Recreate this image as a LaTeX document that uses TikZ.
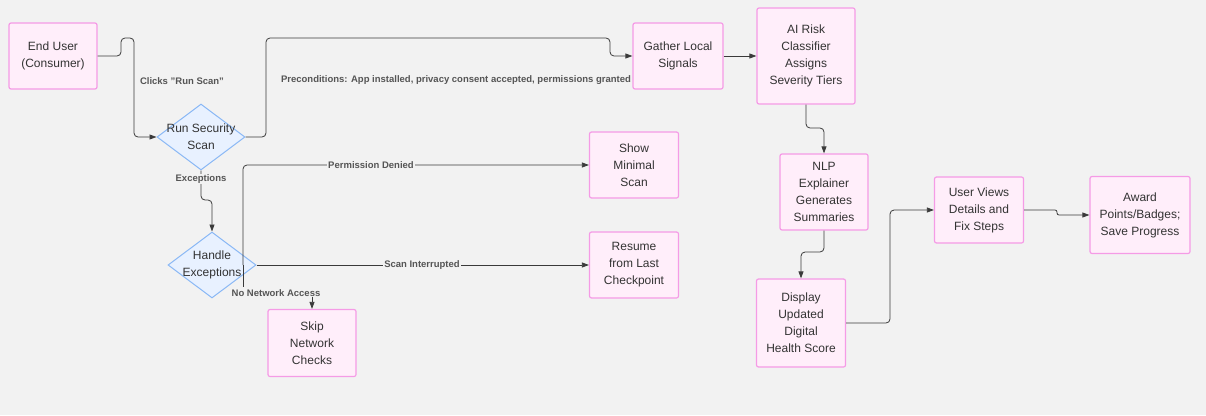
\documentclass[tikz,border=0pt]{standalone}
\usepackage{fontspec}
\setmainfont{Liberation Sans}
\usetikzlibrary{shapes.geometric,arrows.meta}
\definecolor{bg}{HTML}{F2F2F2}
\definecolor{pfill}{HTML}{FFEEFA}
\definecolor{pdraw}{HTML}{F59BE6}
\definecolor{dfill}{HTML}{E8F1FF}
\definecolor{ddraw}{HTML}{8AB8F5}
\definecolor{ln}{HTML}{3A3A3A}
\definecolor{lbl}{HTML}{555555}
\begin{document}
\begin{tikzpicture}[x=1pt,y=-1pt,
 box/.style={draw=pdraw,fill=pfill,line width=1.2pt,rounded corners=2pt,align=center,inner sep=0pt,font=\fontsize{12}{17}\selectfont,text=black!80},
 dia/.style={diamond,draw=ddraw,fill=dfill,line width=1pt,align=center,inner sep=-14pt,font=\fontsize{12}{17}\selectfont,text=black!80,minimum width=88pt,minimum height=66pt,shape aspect=1.33},
 e/.style={draw=ln,line width=0.8pt,rounded corners=4pt,-{Triangle[length=7pt,width=5pt]}},
 el/.style={draw=ln,line width=0.8pt,rounded corners=4pt},
 lab/.style={fill=bg,inner sep=1pt,font=\fontsize{9.5}{11}\selectfont\bfseries,text=lbl}]
\fill[bg] (0,0) rectangle (1206,415);
\useasboundingbox (0,0) rectangle (1206,415);
\node[box,minimum width=88pt,minimum height=66pt] (eu) at (53,56) {End User\\(Consumer)};
\node[dia] (rs) at (201,137) {Run Security\\Scan};
\node[dia] (he) at (212,265) {Handle\\Exceptions};
\node[box,minimum width=88pt,minimum height=67pt] (sk) at (312,343) {Skip\\Network\\Checks};
\node[box,minimum width=89pt,minimum height=66pt] (sm) at (634,165) {Show\\Minimal\\Scan};
\node[box,minimum width=89pt,minimum height=66pt] (re) at (634,265) {Resume\\from Last\\Checkpoint};
\node[box,minimum width=90pt,minimum height=66pt] (ga) at (678,56) {Gather Local\\Signals};
\node[box,minimum width=98pt,minimum height=96pt] (ai) at (806,56) {AI Risk\\Classifier\\Assigns\\Severity Tiers};
\node[box,minimum width=88pt,minimum height=76pt] (nl) at (824,192) {NLP\\Explainer\\Generates\\Summaries};
\node[box,minimum width=89pt,minimum height=88pt] (di) at (801,323) {Display\\Updated\\Digital\\Health Score};
\node[box,minimum width=89pt,minimum height=66pt] (uv) at (979,210) {User Views\\Details and\\Fix Steps};
\node[box,minimum width=100pt,minimum height=77pt] (aw) at (1140,215) {Award\\Points/Badges;\\Save Progress};
\coordinate (hp) at (243,265);
\draw[e] (eu.east) -- (121,56) -- (121,38) -- (134,38) -- (134,137) -- (rs.west);
\node[lab] at (182,81) {Clicks "Run Scan"};
\draw[e] (rs.east) -- (266,137) -- (266,38) -- (610,38) -- (610,56) -- (ga.west);
\node[lab] at (456,80) {Preconditions: App installed, privacy consent accepted, permissions granted};
\draw[e] (rs.south) -- (201,200) -- (212,200) -- (he.north);
\node[lab] at (201,179) {Exceptions};
\draw[e] (hp) -- (243,165) -- (sm.west);
\node[lab] at (371,165) {Permission Denied};
\draw[e] (he.east) -- (re.west);
\node[lab] at (422,265) {Scan Interrupted};
\draw[el] (hp) -- (243,287);
\draw[e] (312,293) -- (sk.north);
\node[lab] at (276,293) {No Network Access};
\draw[e] (ga.east) -- (ai.west);
\draw[e] (ai.south) -- (806,128) -- (824,128) -- (nl.north);
\draw[e] (nl.south) -- (824,252) -- (801,252) -- (di.north);
\draw[e] (di.east) -- (890,323) -- (890,210) -- (uv.west);
\draw[e,rounded corners=2pt] (uv.east) -- (1057,210) -- (1057,215) -- (aw.west);
\end{tikzpicture}
\end{document}
